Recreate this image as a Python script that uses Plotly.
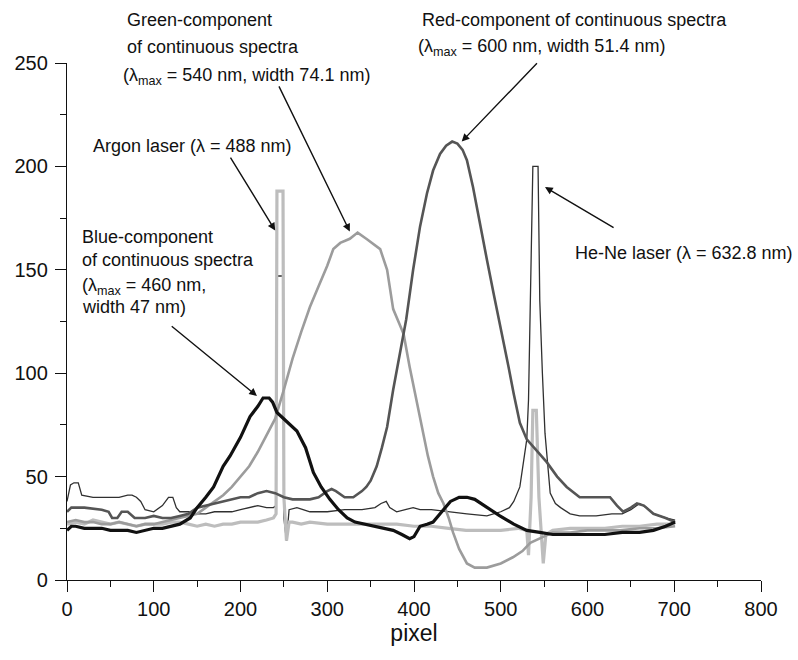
import plotly.graph_objects as go

# ---------------- data ----------------
blue_x = [0, 5, 10, 20, 30, 40, 50, 60, 70, 80, 90, 100, 110, 120, 130, 142, 150, 160, 169, 180, 188, 200, 211, 220, 226, 233, 237, 242, 250, 258, 265, 275, 284, 293, 303, 313, 323, 332, 342, 355, 365, 376, 386, 395, 400, 407, 415, 422, 432, 442, 452, 461, 470, 484, 499, 515, 530, 545, 560, 580, 600, 620, 640, 660, 676, 690, 701]
blue_y = [24, 26, 26, 25, 25, 25, 24, 24, 24, 23, 24, 25, 25, 26, 27, 30, 35, 40, 45, 55, 60, 69, 79, 84, 88, 88, 86, 81, 78, 75, 72, 64, 52, 45, 39, 34, 30, 28, 27, 26, 25, 24, 22, 20, 21, 26, 27, 28, 33, 38, 40, 40, 39, 35, 31, 27, 24, 23, 22, 22, 22, 22, 23, 23, 24, 26, 28]

green_x = [0, 10, 20, 30, 40, 50, 60, 70, 80, 90, 100, 110, 120, 130, 140, 150, 160, 170, 180, 190, 200, 210, 220, 230, 240, 250, 260, 270, 280, 290, 300, 307, 315, 326, 335, 345, 355, 361, 369, 376, 383, 388, 395, 403, 410, 416, 422, 428, 434, 440, 445, 452, 461, 470, 484, 500, 514, 525, 534, 545, 560, 580, 600, 620, 637, 660, 680, 701]
green_y = [28, 29, 28, 28, 27, 27, 28, 27, 26, 27, 27, 28, 29, 30, 31, 32, 35, 38, 41, 45, 50, 55, 62, 70, 78, 92, 107, 120, 132, 142, 152, 160, 163, 165, 168, 165, 162, 160, 150, 131, 124, 119, 103, 87, 72, 60, 50, 42, 37, 30, 23, 15, 8, 6, 6, 8, 11, 14, 18, 20, 23, 23, 24, 24, 24, 25, 25, 26]

red_x = [0, 5, 20, 40, 48, 52, 58, 63, 70, 78, 90, 100, 110, 120, 130, 140, 150, 160, 170, 180, 190, 200, 210, 220, 230, 240, 250, 260, 270, 280, 290, 300, 305, 310, 320, 330, 340, 345, 350, 357, 363, 369, 376, 383, 391, 399, 407, 415, 422, 430, 437, 444, 450, 456, 461, 468, 476, 484, 492, 503, 509, 515, 522, 530, 540, 553, 565, 576, 591, 605, 614, 626, 634, 641, 650, 657, 665, 676, 690, 701]
red_y = [33, 35, 35, 34, 33, 30, 30, 33, 33, 30, 30, 31, 30, 30, 31, 32, 35, 36, 37, 38, 39, 40, 40, 42, 43, 42, 40, 39, 39, 39, 40, 43, 44, 43, 40, 40, 43, 45, 48, 55, 64, 74, 92, 108, 126, 150, 171, 187, 198, 206, 210, 212, 211, 208, 203, 190, 172, 155, 138, 116, 103, 90, 76, 68, 63, 57, 50, 45, 40, 40, 40, 40, 36, 33, 35, 37, 36, 32, 30, 28]

argon_x = [0, 10, 20, 30, 40, 50, 60, 70, 80, 90, 100, 110, 120, 130, 140, 150, 160, 170, 180, 190, 200, 210, 220, 230, 238, 241, 242, 249, 250, 253, 256, 260, 270, 280, 300, 320, 340, 360, 380, 400, 420, 440, 460, 480, 500, 520, 530, 532, 535, 537, 541, 544, 549, 552, 560, 580, 600, 620, 640, 660, 680, 701]
argon_y = [27, 28, 27, 29, 28, 27, 28, 27, 26, 27, 27, 27, 28, 28, 27, 26, 27, 26, 27, 27, 28, 28, 28, 29, 30, 32, 188, 188, 40, 19, 28, 28, 27, 28, 27, 27, 27, 27, 27, 26, 26, 25, 24, 24, 24, 25, 24, 12, 40, 82, 82, 40, 8, 22, 24, 25, 25, 25, 26, 26, 27, 27]

hene_x = [0, 4, 8, 13, 17, 30, 50, 60, 70, 75, 80, 85, 90, 100, 110, 117, 122, 126, 130, 140, 150, 160, 170, 180, 190, 200, 210, 220, 230, 238, 241, 242, 249, 250, 253, 256, 265, 280, 300, 320, 340, 355, 362, 368, 372, 380, 399, 407, 420, 445, 461, 484, 500, 510, 515, 522, 527, 530, 532, 535, 537, 543, 545, 548, 551, 557, 563, 569, 580, 591, 610, 628, 640, 650, 660, 668, 676, 690, 701]
hene_y = [38, 46, 47, 47, 41, 40, 40, 40, 41, 41, 40, 38, 34, 33, 36, 40, 40, 35, 33, 33, 32, 32, 33, 33, 33, 34, 35, 36, 35, 35, 36, 147, 147, 30, 19, 34, 35, 33, 33, 34, 34, 35, 37, 38, 35, 33, 35, 34, 34, 33, 32, 31, 33, 35, 38, 45, 60, 68, 87, 150, 200, 200, 135, 100, 71, 42, 37, 35, 32, 31, 31, 32, 32, 34, 37, 35, 32, 30, 29]

x_ticks = [0, 100, 200, 300, 400, 500, 600, 700, 800]
y_ticks = [0, 50, 100, 150, 200, 250]

label_green = ["Green-component", "of continuous spectra", "(λ<sub>max</sub> = 540 nm, width 74.1 nm)"]
label_red = ["Red-component of continuous spectra", "(λ<sub>max</sub> = 600 nm, width 51.4 nm)"]
label_blue = ["Blue-component", "of continuous spectra", "(λ<sub>max</sub> = 460 nm,", "width 47 nm)"]
label_argon = "Argon laser (λ = 488 nm)"
label_hene = "He-Ne laser (λ = 632.8 nm)"

FONT = "Liberation Sans, Arial, sans-serif"
W, H = 798, 660
ML, MR, MT, MB = 67, 37, 63, 80

fig = go.Figure()
fig.add_trace(go.Scatter(x=hene_x, y=hene_y, mode="lines", line=dict(color="#303030", width=1.3), name="He-Ne"))
fig.add_trace(go.Scatter(x=argon_x, y=argon_y, mode="lines", line=dict(color="#bdbdbd", width=3.2), name="Argon"))
fig.add_trace(go.Scatter(x=green_x, y=green_y, mode="lines", line=dict(color="#9c9c9c", width=2.6), name="Green"))
fig.add_trace(go.Scatter(x=red_x, y=red_y, mode="lines", line=dict(color="#555555", width=2.6), name="Red"))
fig.add_trace(go.Scatter(x=blue_x, y=blue_y, mode="lines", line=dict(color="#111111", width=3.2), name="Blue"))

ann = []
def text(px, py, s):
    # px, py: pixel position of the text's left edge / vertical middle
    ann.append(dict(x=(px - ML) / (W - ML - MR), y=(H - MB - py) / (H - MT - MB),
                    xref="paper", yref="paper", text=s, showarrow=False,
                    xanchor="left", yanchor="middle", borderpad=0,
                    font=dict(family=FONT, size=18, color="#111")))

def arrow(x0, y0, x1, y1):
    ann.append(dict(x=x1, y=y1, ax=x0, ay=y0, xref="x", yref="y", axref="x", ayref="y",
                    text="", showarrow=True, arrowhead=2, arrowsize=1.1, arrowwidth=1.4,
                    arrowcolor="#111", standoff=0))

text(126, 20, label_green[0])
text(126, 47, label_green[1])
text(122, 76, label_green[2])
text(421, 20, label_red[0])
text(417, 48, label_red[1])
text(81, 237, label_blue[0])
text(81, 260, label_blue[1])
text(81, 286, label_blue[2])
text(81, 307, label_blue[3])
text(92, 146, label_argon)
text(574, 253, label_hene)

arrow(243.5, 239.4, 326, 168.5)
arrow(187.4, 205, 240, 169)
arrow(543.4, 250.6, 455, 212)
arrow(631.8, 170, 551, 190)
arrow(119, 123.3, 219, 89)

fig.update_layout(
    width=W, height=H,
    margin=dict(l=ML, r=MR, t=MT, b=MB),
    paper_bgcolor="white", plot_bgcolor="white",
    showlegend=False,
    font=dict(family=FONT, color="#111"),
    annotations=ann,
)
fig.update_xaxes(
    range=[0, 800], tickvals=x_ticks, ticks="outside", ticklen=11, tickwidth=1.4, tickcolor="#111",
    showline=True, linecolor="#111", linewidth=1.4, showgrid=False, zeroline=False, automargin=False,
    tickfont=dict(family=FONT, size=20, color="#111"),
    minor=dict(dtick=50, ticks="outside", ticklen=6, tickwidth=1.4, tickcolor="#111", showgrid=False),
    title=dict(text="pixel", font=dict(family=FONT, size=23, color="#111"), standoff=2),
)
fig.update_yaxes(
    range=[0, 250], tickvals=y_ticks, ticks="outside", ticklen=11, tickwidth=1.4, tickcolor="#111",
    showline=True, linecolor="#111", linewidth=1.4, showgrid=False, zeroline=False, automargin=False,
    ticklabelstandoff=3,
    tickfont=dict(family=FONT, size=20, color="#111"),
    minor=dict(dtick=25, ticks="outside", ticklen=6, tickwidth=1.4, tickcolor="#111", showgrid=False),
)

fig.write_html("out.html", config={"displayModeBar": False},
               post_script="document.body.style.margin='0';document.body.style.padding='0';")
